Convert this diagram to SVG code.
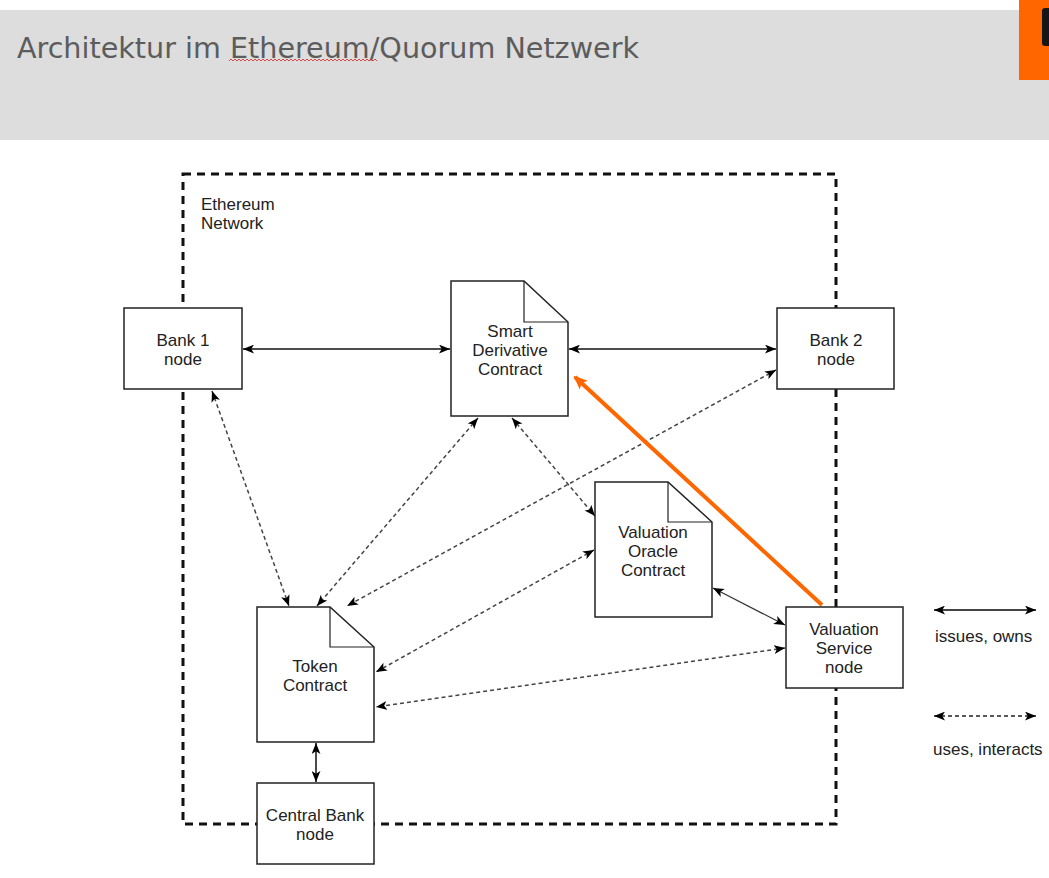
<svg xmlns="http://www.w3.org/2000/svg" width="1049" height="878" viewBox="0 0 1049 878">
<defs>
<style>
.node{fill:#fff;stroke:#222;stroke-width:1.5}
.fold{fill:none;stroke:#222;stroke-width:1.2}
.lbl{font-family:"Liberation Sans",Arial,sans-serif;font-size:17px;fill:#222;text-anchor:middle}
.txt{font-family:"Liberation Sans",Arial,sans-serif;font-size:17px;fill:#222}
.solid{stroke:#111;stroke-width:1.5;fill:none;marker-start:url(#ah);marker-end:url(#ah)}
.thin{stroke:#333;stroke-width:1.2;fill:none;marker-start:url(#ah);marker-end:url(#ah)}
.dash{stroke:#444;stroke-width:1.5;stroke-dasharray:4 3;fill:none;marker-start:url(#ah);marker-end:url(#ah)}
</style>
<marker id="ah" viewBox="0 0 10 8" refX="10" refY="4" markerWidth="11" markerHeight="9" markerUnits="userSpaceOnUse" orient="auto-start-reverse">
<path d="M0,0 L10,4 L0,8 L2.5,4 z" fill="#000"/>
</marker>
<marker id="oh" viewBox="0 0 14 12" refX="12" refY="6" markerWidth="14" markerHeight="12" markerUnits="userSpaceOnUse" orient="auto">
<path d="M0,0 L14,6 L0,12 L3,6 z" fill="#ff6600"/>
</marker>
</defs>
<rect width="1049" height="878" fill="#fff"/>
<g id="header">
<rect x="0" y="10" width="1049" height="130" fill="#dddddd"/>
<rect x="1019" y="0" width="30" height="80" fill="#ff6600"/>
<rect x="1042" y="8" width="12" height="38" rx="3" fill="#151515"/>
<text x="17" y="58" font-family="DejaVu Sans Condensed,DejaVu Sans,sans-serif" font-size="29" fill="#5c5c5c" textLength="622" lengthAdjust="spacingAndGlyphs">Architektur im Ethereum/Quorum Netzwerk</text>
<path d="M229,61 l2,-2 l2,2 l2,-2 l2,2 l2,-2 l2,2 l2,-2 l2,2 l2,-2 l2,2 l2,-2 l2,2 l2,-2 l2,2 l2,-2 l2,2 l2,-2 l2,2 l2,-2 l2,2 l2,-2 l2,2 l2,-2 l2,2 l2,-2 l2,2 l2,-2 l2,2 l2,-2 l2,2 l2,-2 l2,2 l2,-2 l2,2 l2,-2 l2,2 l2,-2 l2,2 l2,-2 l2,2 l2,-2 l2,2 l2,-2 l2,2 l2,-2 l2,2 l2,-2 l2,2 l2,-2 l2,2 l2,-2 l2,2 l2,-2 l2,2 l2,-2 l2,2 l2,-2 l2,2 l2,-2 l2,2 l2,-2 l2,2 l2,-2 l2,2 l2,-2 l2,2 l2,-2 l2,2 l2,-2 l2,2 l2,-2 l2,2 l2,-2 l2,2" fill="none" stroke="#e02020" stroke-width="0.8"/>
</g>
<g id="network">
<rect x="183" y="174" width="653" height="650" fill="none" stroke="#111" stroke-width="3" stroke-dasharray="8 6"/>
<text class="txt" x="201" y="210">Ethereum</text>
<text class="txt" x="201" y="229">Network</text>
</g>
<g id="connectors">
<line class="solid" x1="243" y1="349" x2="450" y2="349"/>
<line class="solid" x1="569" y1="349" x2="776" y2="349"/>
<line class="dash" x1="212" y1="391" x2="289" y2="606"/>
<line class="dash" x1="478" y1="418" x2="317" y2="606"/>
<line class="dash" x1="512" y1="418" x2="595" y2="516"/>
<line class="dash" x1="776" y1="370" x2="347" y2="606"/>
<line class="dash" x1="594" y1="550" x2="376" y2="672"/>
<line class="dash" x1="785" y1="648" x2="376" y2="707"/>
<line class="thin" x1="713" y1="588" x2="785" y2="625"/>
<line class="solid" x1="316" y1="743" x2="316" y2="782"/>
<line x1="822" y1="605" x2="575" y2="377" stroke="#ff6600" stroke-width="4" marker-end="url(#oh)"/>
</g>
<g id="bank1">
<rect class="node" x="124" y="308" width="118" height="81"/>
<text class="lbl" x="183" y="346">Bank 1</text>
<text class="lbl" x="183" y="365">node</text>
</g>
<g id="smart-derivative">
<path class="node" d="M451,281 H524 L568,322 V416 H451 Z"/>
<path class="fold" d="M524,281 V322 H568"/>
<text class="lbl" x="510" y="337">Smart</text>
<text class="lbl" x="510" y="356">Derivative</text>
<text class="lbl" x="510" y="375">Contract</text>
</g>
<g id="bank2">
<rect class="node" x="777" y="308" width="117" height="81"/>
<text class="lbl" x="836" y="346">Bank 2</text>
<text class="lbl" x="836" y="365">node</text>
</g>
<g id="valuation-oracle">
<path class="node" d="M595,482 H668 L712,522 V617 H595 Z"/>
<path class="fold" d="M668,482 V522 H712"/>
<text class="lbl" x="653" y="538">Valuation</text>
<text class="lbl" x="653" y="557">Oracle</text>
<text class="lbl" x="653" y="576">Contract</text>
</g>
<g id="valuation-service">
<rect class="node" x="786" y="607" width="117" height="81"/>
<text class="lbl" x="844" y="635">Valuation</text>
<text class="lbl" x="844" y="654">Service</text>
<text class="lbl" x="844" y="673">node</text>
</g>
<g id="token">
<path class="node" d="M257,607 H330 L374,647 V742 H257 Z"/>
<path class="fold" d="M330,607 V647 H374"/>
<text class="lbl" x="315" y="672">Token</text>
<text class="lbl" x="315" y="691">Contract</text>
</g>
<g id="central-bank">
<rect class="node" x="257" y="783" width="117" height="81"/>
<text class="lbl" x="315" y="821">Central Bank</text>
<text class="lbl" x="315" y="840">node</text>
</g>
<g id="legend">
<line class="solid" x1="934" y1="610" x2="1036" y2="610" style="stroke:#444;stroke-width:2"/>
<text class="txt" x="935" y="642">issues, owns</text>
<line class="dash" x1="934" y1="716" x2="1036" y2="716" style="stroke:#222"/>
<text class="txt" x="933" y="755">uses, interacts</text>
</g>
</svg>
